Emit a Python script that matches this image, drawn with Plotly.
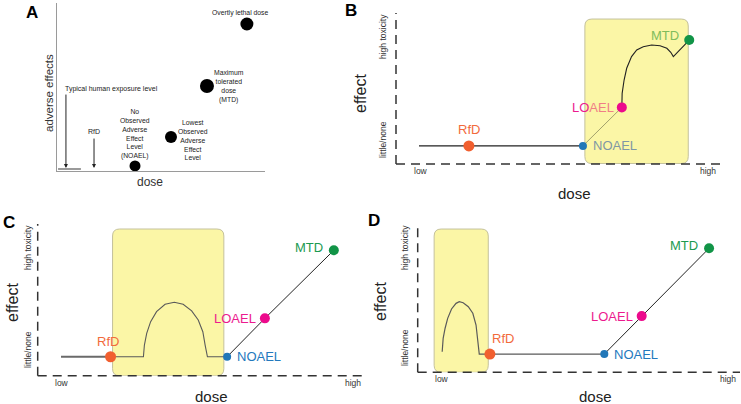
import plotly.graph_objects as go

W, H = 741, 404

# Panel A: classic dose / adverse effect sketch
A_DOSE = [37.5, 54.8, 72.1, 91.3]
A_EFFECT = [3.0, 20.2, 50.6, 87.5]
A_TEXT = [
    "No<br>Observed<br>Adverse<br>Effect<br>Level<br>(NOAEL)",
    "Lowest<br>Observed<br>Adverse<br>Effect<br>Level",
    "Maximum<br>tolerated<br>dose<br>(MTD)",
    "Overtly lethal dose",
]
A_EXPOSURE_X = [0.5, 11.5]
A_EXPOSURE_Y = [1.2, 1.2]
A_ARROW_X = [4.3, 17.8]
A_ARROW_TOP = [46.4, 20.2]
A_ARROW_TEXT = ["Typical human exposure level", "RfD"]

# Panels B-D: RfD, NOAEL, LOAEL, MTD
MARKERS = ["RfD", "NOAEL", "LOAEL", "MTD"]

B_DOSE = [22.5, 57.7, 69.7, 90.5]
B_EFFECT = [12.0, 12.0, 37.5, 82.1]
B_START = 7.1
B_RISE_X = [69.7, 69.8, 70.4, 71.2, 72.7, 74.3, 76.3, 78.9, 81.5, 83.6, 84.8, 85.6, 90.5]
B_RISE_Y = [37.5, 46.8, 55.6, 63.4, 71.1, 75.5, 77.7, 78.8, 78.3, 76.6, 74.0, 71.1, 82.1]
B_BOX = [58.3, 90.2, 0.3, 96.0]

C_DOSE = [22.2, 57.7, 69.2, 90.2]
C_EFFECT = [12.5, 12.5, 37.8, 82.7]
C_START = 7.1
C_ARCH_X = [32.2, 32.5, 33.2, 34.4, 36.2, 38.8, 41.6, 44.3, 46.9, 48.9, 50.3, 51.0, 51.7]
C_ARCH_Y = [12.5, 20.2, 27.9, 35.6, 42.2, 47.1, 48.4, 47.1, 42.7, 36.7, 29.0, 20.2, 12.5]
C_BOX = [22.8, 56.7, 0.0, 96.7]

D_DOSE = [22.4, 57.9, 69.5, 90.4]
D_EFFECT = [12.3, 12.3, 37.9, 83.6]
D_ARCH_X = [7.6, 7.9, 8.5, 9.3, 10.5, 11.9, 12.9, 14.1, 15.7, 17.1, 18.1, 18.6, 18.9, 19.1]
D_ARCH_Y = [13.9, 22.9, 29.7, 36.4, 42.7, 46.5, 47.6, 46.9, 44.2, 39.8, 31.9, 22.9, 13.9, 12.3]
D_BOX = [5.1, 21.9, 0.0, 96.6]

DOT_COLORS = ["#F15F2F", "#2177B8", "#EC0A8C", "#119447"]
TEXT_COLORS = ["#F26A3C", "#2379BD", "#EC1A8E", "#1B9A50"]
DOT_SIZES = [11, 8, 10, 10]

# pixel boxes of each panel's plotting area: x0, x1, ytop, ybottom
PANELS = {
    "A": ("x", "y", (57, 265, 3, 171)),
    "B": ("x2", "y2", (396, 720, 13, 164)),
    "C": ("x3", "y3", (37.7, 366, 224, 375.7)),
    "D": ("x4", "y4", (417.7, 740, 224, 372.3)),
}
FONT = "Liberation Sans, Arial, sans-serif"


def px(x, y):
    return x / W, 1 - y / H


def rounded_box(box, panel, r=7):
    x0, x1, y0, y1 = box
    _, _, (l, rr, t, b) = PANELS[panel]
    rx = r * 100 / (rr - l)
    ry = r * 100 / (b - t)
    return (
        f"M {x0 + rx},{y0} L {x1 - rx},{y0} Q {x1},{y0} {x1},{y0 + ry} "
        f"L {x1},{y1 - ry} Q {x1},{y1} {x1 - rx},{y1} L {x0 + rx},{y1} "
        f"Q {x0},{y1} {x0},{y1 - ry} L {x0},{y0 + ry} Q {x0},{y0} {x0 + rx},{y0} Z"
    )


fig = go.Figure()
annotations = []
shapes = []


def text(x, y, s, size, color="#222", angle=0, bold=False, xanchor="center"):
    xp, yp = px(x, y)
    annotations.append(dict(
        x=xp, y=yp, xref="paper", yref="paper", text=f"<b>{s}</b>" if bold else s,
        showarrow=False, textangle=angle, xanchor=xanchor, yanchor="middle",
        font=dict(size=size, color=color, family=FONT),
    ))


def line(panel, xs, ys, color, width):
    xa, ya, _ = PANELS[panel]
    fig.add_trace(go.Scatter(
        x=xs, y=ys, xaxis=xa, yaxis=ya, mode="lines", cliponaxis=False,
        line=dict(color=color, width=width), hoverinfo="skip", showlegend=False,
    ))


def dots(panel, xs, ys, colors, sizes):
    xa, ya, _ = PANELS[panel]
    fig.add_trace(go.Scatter(
        x=xs, y=ys, xaxis=xa, yaxis=ya, mode="markers", cliponaxis=False,
        marker=dict(color=colors, size=sizes, line_width=0, opacity=1), showlegend=False,
    ))


def labels(panel, xs, ys, colors, offsets):
    xa, ya, _ = PANELS[panel]
    for name, x, y, c, (anchor, dx, dy) in zip(MARKERS, xs, ys, colors, offsets):
        annotations.append(dict(
            x=x, y=y, xref=xa, yref=ya, text=name, showarrow=False,
            xanchor=anchor, yanchor="middle", xshift=dx, yshift=dy,
            font=dict(size=13, color=c, family=FONT),
        ))


def dashed_axes(panel):
    xa, ya, _ = PANELS[panel]
    for x0, y0, x1, y1 in [(0, 0, 1, 0), (0, 0, 0, 1)]:
        shapes.append(dict(
            type="line", xref=f"{xa} domain", yref=f"{ya} domain",
            x0=x0, y0=y0, x1=x1, y1=y1,
            line=dict(color="#333", width=1.5, dash="9px,6px"),
        ))


def box(panel, bx):
    xa, ya, _ = PANELS[panel]
    shapes.append(dict(
        type="path", xref=xa, yref=ya, path=rounded_box(bx, panel),
        fillcolor="#FBF6A6", line=dict(color="#C4C19C", width=1), layer="below",
    ))


# ---- Panel A ----
line("A", A_EXPOSURE_X, A_EXPOSURE_Y, "#9A9A9A", 2)
dots("A", A_DOSE, A_EFFECT, "#000", [11, 12, 14, 13])
for x, top, s in zip(A_ARROW_X, A_ARROW_TOP, A_ARROW_TEXT):
    annotations.append(dict(
        x=x, y=1.8, ax=x, ay=top, xref="x", yref="y", axref="x", ayref="y",
        text="", showarrow=True, arrowhead=2, arrowsize=0.8, arrowwidth=1,
        arrowcolor="#222",
    ))
annotations.append(dict(x=A_ARROW_X[0] - 1.4, y=A_ARROW_TOP[0] + 2.4, xref="x", yref="y",
                        text=A_ARROW_TEXT[0], showarrow=False, xanchor="left",
                        font=dict(size=7, color="#222", family=FONT)))
annotations.append(dict(x=A_ARROW_X[1], y=A_ARROW_TOP[1] + 3.6, xref="x", yref="y",
                        text=A_ARROW_TEXT[1], showarrow=False,
                        font=dict(size=7, color="#222", family=FONT)))
a_offsets = [(0, 19), (10.6, -1.7), (10.6, -0.3), (-3.3, 6.5)]
for x, y, s, (dx, dy) in zip(A_DOSE, A_EFFECT, A_TEXT, a_offsets):
    annotations.append(dict(x=x + dx, y=y + dy, xref="x", yref="y", text=s,
                            showarrow=False, font=dict(size=6.8, color="#222", family=FONT)))
text(49, 93, "adverse effects", 11.5, color="#333", angle=-90)
text(150, 182, "dose", 12, color="#333")
text(32, 12, "A", 17, color="#000", bold=True)

# ---- Panel B ----
box("B", B_BOX)
line("B", [B_START, B_DOSE[1]], [B_EFFECT[0], B_EFFECT[1]], "#222", 1.4)
line("B", B_DOSE[1:3], B_EFFECT[1:3], "#A3A26C", 1)
line("B", B_RISE_X, B_RISE_Y, "#222", 1.1)
dots("B", B_DOSE, B_EFFECT, DOT_COLORS, DOT_SIZES)
b_colors = ["#F26A3C", "#7F97A4",
            "#EC1A8E", "#80BC5C"]
labels("B", B_DOSE, B_EFFECT, b_colors,
       [("center", 0, 16), ("left", 8, 0), ("right", -6, 0), ("right", -8, 5)])
# LOAEL text is partly under the box
annotations[-2]["text"] = "<span style='color:#EC1A8E'>LO</span><span style='color:#F07E86'>AEL</span>"
dashed_axes("B")
text(383, 37, "high toxicity", 8.5, color="#333", angle=-90)
text(383, 140, "little/none", 8.5, color="#333", angle=-90)
text(421, 171, "low", 8.5, color="#333")
text(708, 171, "high", 8.5, color="#333")
text(574, 193, "dose", 15)
text(360, 94, "effect", 16, angle=-90)
text(351, 10, "B", 17, color="#000", bold=True)

# ---- Panel C ----
box("C", C_BOX)
line("C", [C_START, C_DOSE[0]], [C_EFFECT[0], C_EFFECT[0]], "#6A6A6A", 2)
line("C", [C_DOSE[0]] + C_ARCH_X + [C_DOSE[1]],
     [C_EFFECT[0]] + C_ARCH_Y + [C_EFFECT[1]], "#5A5A5A", 1.1)
line("C", C_DOSE[1:], C_EFFECT[1:], "#222", 1)
dots("C", C_DOSE, C_EFFECT, DOT_COLORS, DOT_SIZES)
labels("C", C_DOSE, C_EFFECT, TEXT_COLORS,
       [("center", -3, 15), ("left", 8, 0), ("right", -7, 0), ("right", -9, 3)])
dashed_axes("C")
text(28, 248, "high toxicity", 8.5, color="#333", angle=-90)
text(28, 350, "little/none", 8.5, color="#333", angle=-90)
text(62, 383, "low", 8.5, color="#333")
text(353, 383, "high", 8.5, color="#333")
text(212, 396, "dose", 15)
text(12, 303, "effect", 16, angle=-90)
text(8.5, 222, "C", 17, color="#000", bold=True)

# ---- Panel D ----
box("D", D_BOX)
line("D", D_ARCH_X + [D_DOSE[0], D_DOSE[1]],
     D_ARCH_Y + [D_EFFECT[0], D_EFFECT[1]], "#5A5A5A", 1.2)
line("D", D_DOSE[1:], D_EFFECT[1:], "#222", 1)
dots("D", D_DOSE, D_EFFECT, DOT_COLORS, DOT_SIZES)
labels("D", D_DOSE, D_EFFECT, TEXT_COLORS,
       [("center", 13, 16), ("left", 8, 0), ("right", -7, 0), ("right", -9, 3)])
dashed_axes("D")
text(405, 248, "high toxicity", 8.5, color="#333", angle=-90)
text(405, 348, "little/none", 8.5, color="#333", angle=-90)
text(442, 379, "low", 8.5, color="#333")
text(728, 379, "high", 8.5, color="#333")
text(595, 396, "dose", 15)
text(380, 301, "effect", 16, angle=-90)
text(374, 220, "D", 17, color="#000", bold=True)

layout = dict(
    width=W, height=H, margin=dict(l=0, r=0, t=0, b=0),
    paper_bgcolor="white", plot_bgcolor="rgba(0,0,0,0)",
    annotations=annotations, shapes=shapes, showlegend=False,
)
for key, (xa, ya, (l, r, t, b)) in PANELS.items():
    xname = "xaxis" + xa[1:]
    yname = "yaxis" + ya[1:]
    is_a = key == "A"
    common = dict(range=[0, 100], showgrid=False, zeroline=False, showticklabels=False,
                  ticks="", fixedrange=True, showline=is_a, linecolor="#9A9A9A", linewidth=1.3)
    layout[xname] = dict(domain=[l / W, r / W], anchor=ya, **common)
    layout[yname] = dict(domain=[1 - b / H, 1 - t / H], anchor=xa, **common)
fig.update_layout(**layout)

# the page's default body margin would shift the figure by 8px
fig.write_html("out.html", config={"displayModeBar": False},
               post_script="document.body.style.margin='0';")
